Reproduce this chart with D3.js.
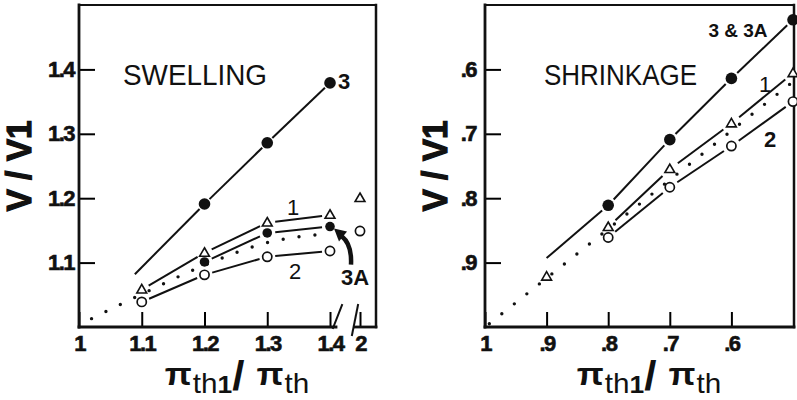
<!DOCTYPE html>
<html>
<head>
<meta charset="utf-8">
<script src="https://cdn.jsdelivr.net/npm/d3@7"></script>
<style>
body { margin: 0; background: #fff; }
svg { display: block; }
text { font-family: "Liberation Sans", Arial, Helvetica, sans-serif; fill: #111; }
</style>
</head>
<body>
<svg id="chart" width="797" height="400"></svg>
<script>
// swelling panel
var swellX = [1.1, 1.2, 1.3, 1.4, 2];
var swell1 = [1.058, 1.115, 1.162, 1.174, 1.2];
var swell2 = [1.039, 1.081, 1.109, 1.118, 1.149];
var swell3 = [null, 1.191, 1.286, 1.379, null];
var swell3A = [null, 1.101, 1.146, 1.156, null];
var swell3Start = [1.089, 1.082];
var swellIdealX = [1.02, 1.1, 1.2, 1.3, 1.4];
var swellIdealY = [1.013, 1.051, 1.096, 1.131, 1.145];
var swellXTicks = [1, 1.1, 1.2, 1.3, 1.4, 2];
var swellXLabels = ["1", "1.1", "1.2", "1.3", "1.4", "2"];
var swellYTicks = [1.1, 1.2, 1.3, 1.4];
var swellYLabels = ["1.1", "1.2", "1.3", "1.4"];

// shrinkage panel
var shrinkX = [0.9, 0.8, 0.7, 0.6, 0.5];
var shrink1 = [0.922, 0.845, 0.755, 0.684, 0.606];
var shrink2 = [null, 0.861, 0.783, 0.719, 0.65];
var shrink3 = [null, 0.811, 0.709, 0.614, 0.523];
var shrink3Start = [0.9, 0.893];
var shrinkIdealX = [0.993, 0.5];
var shrinkIdealY = [0.995, 0.619];
var shrinkXTicks = [1, 0.9, 0.8, 0.7, 0.6];
var shrinkXLabels = ["1", ".9", ".8", ".7", ".6"];
var shrinkYTicks = [0.9, 0.8, 0.7, 0.6];
var shrinkYLabels = [".9", ".8", ".7", ".6"];

var ink = "#111";
var svg = d3.select("#chart");
svg.append("rect").attr("width", 797).attr("height", 400).attr("fill", "#fff");

function pts(xs, ys, from, upto) {
  var out = [];
  xs.forEach(function(x, i) {
    if (ys[i] != null && i >= from && i < upto) out.push([x, ys[i]]);
  });
  return out;
}

// straight pieces between markers, leaving a little room round each marker
function segments(g, x, y, points, gap, openStart) {
  for (var i = 0; i < points.length - 1; i++) {
    var ax = x(points[i][0]), ay = y(points[i][1]);
    var bx = x(points[i + 1][0]), by = y(points[i + 1][1]);
    var dx = bx - ax, dy = by - ay, len = Math.sqrt(dx * dx + dy * dy);
    var g0 = (i == 0 && openStart) ? 0 : gap;
    g.append("line")
      .attr("x1", ax + dx / len * g0).attr("y1", ay + dy / len * g0)
      .attr("x2", bx - dx / len * gap).attr("y2", by - dy / len * gap)
      .attr("stroke", ink).attr("stroke-width", 2);
  }
}

function markers(g, x, y, points, kind) {
  var sel = g.selectAll(null).data(points);
  if (kind == "tri") {
    sel.enter().append("path")
      .attr("d", d3.symbol(d3.symbolTriangle, 42))
      .attr("transform", function(d) { return "translate(" + x(d[0]) + "," + (y(d[1]) + 0.5) + ")"; })
      .attr("fill", "#fff").attr("stroke", ink).attr("stroke-width", 1.6);
  } else {
    sel.enter().append("circle")
      .attr("cx", function(d) { return x(d[0]); })
      .attr("cy", function(d) { return y(d[1]); })
      .attr("r", kind == "dot" ? 5.8 : kind == "small" ? 4.8 : 4.6)
      .attr("fill", kind == "open" ? "#fff" : ink)
      .attr("stroke", ink).attr("stroke-width", kind == "open" ? 1.7 : 0);
  }
}

function dotted(g, x, y, xs, ys) {
  var line = d3.line()
    .x(function(d) { return x(d[0]); })
    .y(function(d) { return y(d[1]); })
    .curve(d3.curveMonotoneX);
  g.append("path")
    .attr("d", line(xs.map(function(v, i) { return [v, ys[i]]; })))
    .attr("fill", "none").attr("stroke", ink)
    .attr("stroke-width", 3.4).attr("stroke-linecap", "round")
    .attr("stroke-dasharray", "0 16");
}

function axes(g, x, y, o) {
  var yAxis = d3.axisLeft(y)
    .tickValues(o.yTicks)
    .tickFormat(function(d) { return o.yLabels[o.yTicks.indexOf(d)]; })
    .tickSize(-16).tickPadding(o.yPad);
  g.append("g").attr("transform", "translate(" + o.left + ",0)").call(yAxis)
    .attr("font-family", "Liberation Sans, Arial, sans-serif")
    .attr("font-size", 22).attr("font-weight", "bold")
    .call(function(a) {
      a.select(".domain").remove();
      a.selectAll("line").attr("stroke-width", 2);
      a.selectAll("text").attr("fill", ink).attr("letter-spacing", -1.5)
        .attr("stroke", ink).attr("stroke-width", 0.6);
    });
  var xAxis = d3.axisBottom(x)
    .tickValues(o.xTicks)
    .tickFormat(function(d) { return o.xLabels[o.xTicks.indexOf(d)]; })
    .tickSize(-15).tickPadding(8);
  g.append("g").attr("transform", "translate(0," + o.bottom + ")").call(xAxis)
    .attr("font-family", "Liberation Sans, Arial, sans-serif")
    .attr("font-size", 22).attr("font-weight", "bold")
    .call(function(a) {
      a.select(".domain").remove();
      a.selectAll("line").attr("stroke-width", 2);
      a.selectAll("text").attr("fill", ink).attr("letter-spacing", -1.5)
        .attr("stroke", ink).attr("stroke-width", 0.6);
    });

  // frame
  var fr = g.append("g").attr("stroke", ink).attr("fill", "none").attr("stroke-linecap", "square");
  fr.append("line").attr("x1", o.left).attr("y1", o.top).attr("x2", o.right).attr("y2", o.top).attr("stroke-width", 2);
  fr.append("line").attr("x1", o.right).attr("y1", o.top).attr("x2", o.right).attr("y2", o.bottom).attr("stroke-width", 2.5);
  fr.append("line").attr("x1", o.left).attr("y1", o.top).attr("x2", o.left).attr("y2", o.bottom).attr("stroke-width", 2.8);
  if (o.breakAt) {
    fr.append("line").attr("x1", o.left).attr("y1", o.bottom).attr("x2", o.breakAt[0]).attr("y2", o.bottom).attr("stroke-width", 2.8);
    fr.append("line").attr("x1", o.breakAt[1]).attr("y1", o.bottom).attr("x2", o.right).attr("y2", o.bottom).attr("stroke-width", 2.8);
    fr.append("line").attr("x1", o.breakAt[0] - 3).attr("y1", o.bottom + 1).attr("x2", o.breakAt[0] + 6).attr("y2", o.bottom - 22).attr("stroke-width", 2);
    fr.append("line").attr("x1", o.breakAt[1] - 3).attr("y1", o.bottom + 8).attr("x2", o.breakAt[1] + 3).attr("y2", o.bottom - 22).attr("stroke-width", 2);
  } else {
    fr.append("line").attr("x1", o.left).attr("y1", o.bottom).attr("x2", o.right).attr("y2", o.bottom).attr("stroke-width", 2.8);
  }

  // axis titles
  g.append("text")
    .attr("transform", "translate(" + o.yTitleX + "," + 166 + ") rotate(-90)")
    .attr("text-anchor", "middle")
    .attr("font-size", 35).attr("font-weight", "bold")
    .attr("stroke", ink).attr("stroke-width", 1.2)
    .attr("textLength", 91).attr("lengthAdjust", "spacingAndGlyphs")
    .text("V / V1");

  var t = g.append("text")
    .attr("transform", "translate(" + o.xTitleX + ",0) scale(1.1,1)")
    .attr("x", 0).attr("y", 385).attr("text-anchor", "middle");
  t.append("tspan").attr("font-size", 32).attr("font-weight", "bold").text("π");
  t.append("tspan").attr("font-size", 27).attr("dy", 8).attr("dx", 1).text("th");
  t.append("tspan").attr("font-size", 24).attr("font-weight", "bold").text("1");
  t.append("tspan").attr("font-size", 40).attr("font-weight", "bold").attr("dy", -3).text("/ ");
  t.append("tspan").attr("font-size", 32).attr("font-weight", "bold").attr("dy", -5).text("π");
  t.append("tspan").attr("font-size", 27).attr("dy", 8).attr("dx", 1).text("th");
}

function label(g, x, y, txt, size, weight) {
  g.append("text").attr("x", x).attr("y", y).attr("text-anchor", "middle")
    .attr("font-size", size).attr("font-weight", weight || "normal").text(txt);
}

// ---------- SWELLING ----------
var sx = d3.scaleLinear().domain([1, 1.4, 2]).range([79, 330, 360]);
var sy = d3.scaleLinear().domain([1, 1.5]).range([327, 5]);
var left = svg.append("g");

axes(left, sx, sy, {
  left: 79, right: 376, top: 5, bottom: 327, yPad: 5,
  yTicks: swellYTicks, yLabels: swellYLabels, xTicks: swellXTicks, xLabels: swellXLabels,
  breakAt: [336, 355], yTitleX: 31, xTitleX: 237
});

dotted(left, sx, sy, swellIdealX, swellIdealY);
segments(left, sx, sy, [swell3Start].concat(pts(swellX, swell3, 0, 4)), 7, true);
segments(left, sx, sy, pts(swellX, swell1, 0, 4), 8);
segments(left, sx, sy, pts(swellX, swell3A, 0, 4), 8);
segments(left, sx, sy, pts(swellX, swell2, 0, 4), 8);
markers(left, sx, sy, pts(swellX, swell1, 0, 5), "tri");
markers(left, sx, sy, pts(swellX, swell2, 0, 5), "open");
markers(left, sx, sy, pts(swellX, swell3A, 0, 5), "small");
markers(left, sx, sy, pts(swellX, swell3, 0, 5), "dot");

left.append("text").attr("x", 123).attr("y", 85).attr("font-size", 30)
  .attr("textLength", 144).attr("lengthAdjust", "spacingAndGlyphs").text("SWELLING");
label(left, 344, 89, "3", 22, "bold");
label(left, 293, 215, "1", 22);
label(left, 295, 279, "2", 22);
label(left, 355, 285, "3A", 22, "bold");

// curved arrow from "3A" to its last point
var ax0 = sx(1.4), ay0 = sy(swell3A[3]);
left.append("path")
  .attr("d", "M" + (ax0 + 21) + "," + (ay0 + 38) + " Q" + (ax0 + 22) + "," + (ay0 + 18) + " " + (ax0 + 12) + "," + (ay0 + 10))
  .attr("fill", "none").attr("stroke", ink).attr("stroke-width", 4.5);
left.append("path")
  .attr("d", "M" + (ax0 + 4) + "," + (ay0 + 2) + " L" + (ax0 + 17) + "," + (ay0 + 5) + " L" + (ax0 + 9) + "," + (ay0 + 15) + "Z")
  .attr("fill", ink);

// ---------- SHRINKAGE ----------
var rx = d3.scaleLinear().domain([1, 0.5]).range([485, 793]);
var ry = d3.scaleLinear().domain([1, 0.5]).range([327, 5]);
var right = svg.append("g");

axes(right, rx, ry, {
  left: 485, right: 794, top: 5, bottom: 327, yPad: 9,
  yTicks: shrinkYTicks, yLabels: shrinkYLabels, xTicks: shrinkXTicks, xLabels: shrinkXLabels,
  yTitleX: 447, xTitleX: 649
});

dotted(right, rx, ry, shrinkIdealX, shrinkIdealY);
segments(right, rx, ry, [shrink3Start].concat(pts(shrinkX, shrink3, 0, 5)), 8, true);
segments(right, rx, ry, pts(shrinkX, shrink1, 1, 5), 10);
segments(right, rx, ry, pts(shrinkX, shrink2, 1, 5), 9);
markers(right, rx, ry, pts(shrinkX, shrink1, 0, 5), "tri");
markers(right, rx, ry, pts(shrinkX, shrink2, 0, 5), "open");
markers(right, rx, ry, pts(shrinkX, shrink3, 0, 5), "dot");

right.append("text").attr("x", 544).attr("y", 85).attr("font-size", 30)
  .attr("textLength", 153).attr("lengthAdjust", "spacingAndGlyphs").text("SHRINKAGE");
label(right, 738, 37, "3 & 3A", 19, "bold");
label(right, 765, 92, "1", 22);
label(right, 770, 147, "2", 22, "bold");
</script>
</body>
</html>
